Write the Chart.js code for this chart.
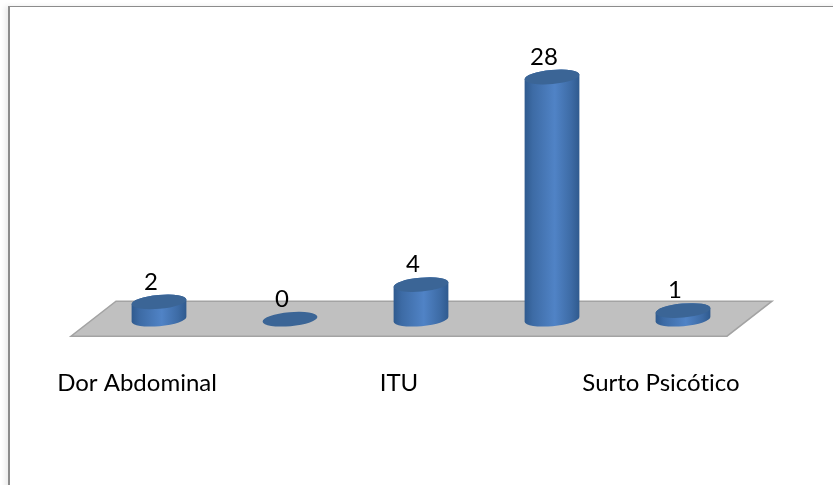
<!DOCTYPE html>
<html>
<head>
<meta charset="utf-8">
<script src="https://cdn.jsdelivr.net/npm/chart.js@4"></script>
<style>
  html, body { margin: 0; padding: 0; background: #fff; overflow: hidden; }
  #wrap { position: relative; width: 833px; height: 485px; }
  #frame { position: absolute; left: 8px; top: 6px; width: 900px; height: 600px;
           border-left: 2px solid #8c8c8c; border-top: 1px solid #8c8c8c;
           box-shadow: -3px 0 5px rgba(0,0,0,0.08); }
</style>
</head>
<body>
<div id="wrap">
  <div id="frame"></div>
  <canvas id="chart" width="833" height="485" style="position:absolute;left:0;top:0"></canvas>
</div>
<script>
const categories = ['Dor Abdominal', '', 'ITU', '', 'Surto Psicótico'];
const values = [2, 0, 4, 28, 1];

const FONT = 'Lato, "Open Sans", sans-serif';
const TILT = -0.09;
const RY = 7;
const FLOOR_DEPTH_X = 45;   // how far the back edge of the floor is shifted right
const FLOOR_DEPTH_Y = 35;

// Grey floor, plus the fake 3D cylinders, replaces the flat bars
const cylinders = {
  id: 'cylinders',
  beforeDraw(chart) {
    // Lato has a "ti" ligature that the original font does not show
    chart.ctx.textRendering = 'optimizeSpeed';
  },
  beforeDatasetsDraw(chart) {
    const { ctx, chartArea, scales } = chart;
    const y0 = scales.y.getPixelForValue(0);
    const left = chartArea.left - 22.5;
    const right = chartArea.right - 21.5;
    ctx.save();
    ctx.beginPath();
    ctx.moveTo(left, y0 + 17);
    ctx.lineTo(right, y0 + 17);
    ctx.lineTo(right + FLOOR_DEPTH_X, y0 + 17 - FLOOR_DEPTH_Y);
    ctx.lineTo(left + FLOOR_DEPTH_X, y0 + 17 - FLOOR_DEPTH_Y);
    ctx.closePath();
    ctx.fillStyle = '#c0c0c0';
    ctx.fill();
    ctx.strokeStyle = '#a3a3a3';
    ctx.lineWidth = 1.5;
    ctx.stroke();
    ctx.restore();
  },
  afterDatasetsDraw(chart) {
    const { ctx } = chart;
    const meta = chart.getDatasetMeta(0);
    ctx.save();
    meta.data.forEach((bar, i) => {
      const rx = bar.width / 2;
      const grad = ctx.createLinearGradient(bar.x - rx, 0, bar.x + rx, 0);
      grad.addColorStop(0, '#2f5a8e');
      grad.addColorStop(0.15, '#3d6ba5');
      grad.addColorStop(0.55, '#5083c6');
      grad.addColorStop(0.85, '#3d6ba5');
      grad.addColorStop(1, '#2f5a8e');

      if (values[i] > 0) {
        ctx.beginPath();
        ctx.ellipse(bar.x, bar.base, rx, RY, TILT, 0, Math.PI);
        ctx.ellipse(bar.x, bar.y, rx, RY, TILT, Math.PI, 0);
        ctx.closePath();
        ctx.fillStyle = grad;
        ctx.fill();
      }
      ctx.beginPath();
      ctx.ellipse(bar.x, bar.y, rx, RY, TILT, 0, Math.PI * 2);
      ctx.fillStyle = '#3b6596';
      ctx.fill();

      ctx.fillStyle = '#000';
      ctx.font = '24px ' + FONT;
      ctx.textAlign = 'center';
      ctx.textBaseline = 'middle';
      ctx.fillText(String(values[i]), bar.x - 8, bar.y - 20);
    });
    ctx.restore();
  }
};

new Chart(document.getElementById('chart'), {
  type: 'bar',
  data: {
    labels: categories,
    datasets: [{
      data: values,
      backgroundColor: 'rgba(0,0,0,0)',
      barThickness: 55
    }]
  },
  options: {
    responsive: false,
    animation: false,
    layout: { padding: { left: 93.5, right: 84.5, top: 77, bottom: 45 } },
    plugins: { legend: { display: false }, tooltip: { enabled: false } },
    scales: {
      x: {
        grid: { display: false },
        border: { display: false },
        ticks: {
          color: '#000',
          font: { family: FONT, size: 24 },
          padding: 42,
          labelOffset: -22,
          autoSkip: false,
          maxRotation: 0
        }
      },
      y: {
        display: false,
        min: 0,
        max: 28
      }
    }
  },
  plugins: [cylinders]
});
</script>
</body>
</html>
